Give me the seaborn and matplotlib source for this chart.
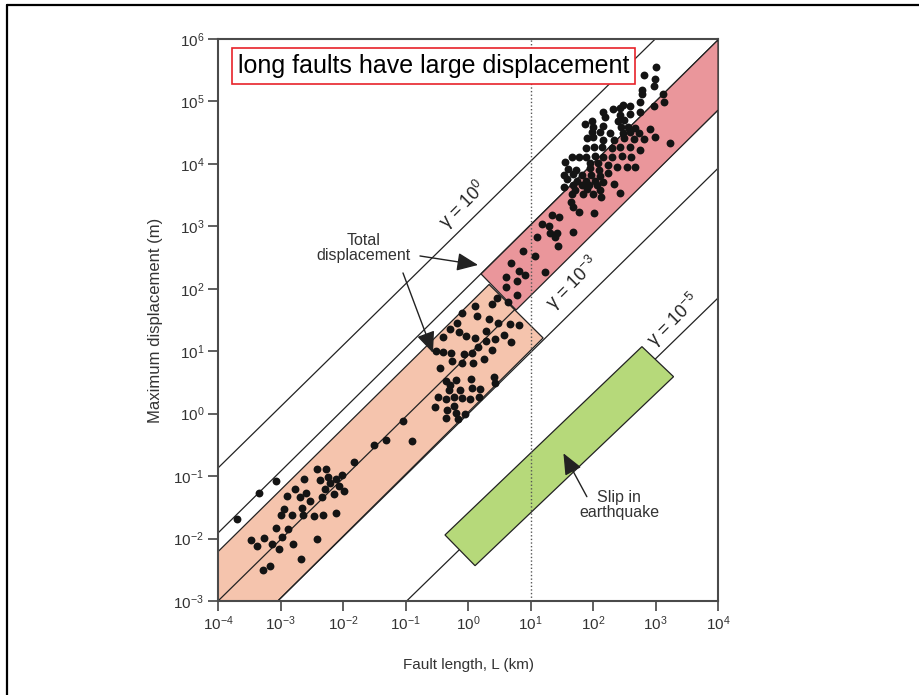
import numpy as np
import pandas as pd
import seaborn as sns
import matplotlib.pyplot as plt
from matplotlib.patches import Polygon
from matplotlib.lines import Line2D
from matplotlib.ticker import LogLocator, NullLocator

# fault data as log10 values (L in km, D in m)
small_logL = [-3.696, -3.343, -3.065, -3.476, -3.369, -3.263, -3.273, -3.167, -3.135, -3.023,
              -3.071, -2.975, -2.879, -2.799, -2.680, -3.000, -2.943, -2.904, -2.824, -2.776,
              -2.687, -2.659, -2.638, -2.590, -2.531, -2.632, -2.472, -2.424, -2.424, -2.366,
              -2.339, -2.323, -2.291, -2.270, -2.248, -2.216, -2.142, -2.119, -2.115, -2.062,
              -2.023, -1.991, -1.822, -1.501, -1.319, -0.902, -1.037]
small_logD = [-1.682, -1.266, -1.073, -2.018, -2.124, -1.996, -2.504, -2.435, -2.082, -2.172,
              -1.826, -1.980, -1.847, -2.082, -2.323, -1.618, -1.522, -1.318, -1.618, -1.211,
              -1.339, -1.511, -1.618, -1.275, -1.403, -1.051, -1.639, -2.007, -0.891, -1.062,
              -1.330, -1.627, -1.211, -0.891, -1.009, -1.115, -1.286, -1.586, -1.051, -1.158,
              -0.987, -1.243, -0.774, -0.506, -0.422, -0.442, -0.117]

mid_logL = [0.469, 0.379, 0.636, 0.785, 0.107, -0.101, 0.144, 0.336, 0.485, 0.668,
            0.812, -0.177, -0.293, -0.144, 0.283, -0.037, -0.396, 0.112, 0.283, 0.432,
            0.572, 0.688, 0.155, 0.389, -0.518, -0.401, -0.273, -0.069, 0.069, 0.251,
            -0.252, -0.092, 0.080, -0.454, 0.421, 0.432, -0.357, -0.188, 0.048, -0.293,
            -0.305, -0.124, 0.059, 0.187, -0.476, -0.357, -0.220, -0.092, 0.037, 0.176,
            -0.529, -0.337, -0.229, -0.197, -0.048, -0.357, -0.165]
mid_logD = [1.857, 1.752, 1.793, 1.901, 1.729, 1.608, 1.564, 1.511, 1.447, 1.431,
            1.420, 1.457, 1.356, 1.303, 1.329, 1.244, 1.233, 1.207, 1.169, 1.191,
            1.255, 1.153, 1.073, 1.020, 1.004, 0.988, 0.977, 0.956, 0.977, 0.871,
            0.839, 0.816, 0.807, 0.727, 0.583, 0.487, 0.528, 0.539, 0.551, 0.459,
            0.379, 0.379, 0.406, 0.400, 0.272, 0.240, 0.262, 0.246, 0.240, 0.262,
            0.102, 0.059, 0.123, 0.016, -0.005, -0.069, -0.090]

red_logL = [1.341, 1.462, 1.185, 1.302, 1.308, 1.430, 1.393, 1.100, 1.436, 0.885,
            1.078, 0.688, 0.821, 0.918, 1.238, 0.604, 0.785, 0.613, 1.677]
red_logD = [3.182, 3.145, 3.038, 3.011, 2.898, 2.898, 2.834, 2.825, 2.685, 2.605,
            2.530, 2.408, 2.290, 2.216, 2.264, 2.184, 2.130, 2.024, 2.914]

up_logL = [3.011, 2.995, 2.819, 2.979, 2.776, 3.118, 3.139, 2.787, 2.968, 2.755,
           2.584, 2.477, 2.424, 2.317, 2.157, 2.194, 2.434, 2.595, 2.755, 2.488,
           2.392, 1.981, 1.874, 1.997, 2.157, 2.445, 2.552, 2.675, 2.915, 1.981,
           2.114, 2.274, 2.477, 2.595, 2.728, 1.900, 1.997, 2.167, 2.328, 2.488,
           2.659, 2.819, 2.995, 3.225, 2.018, 1.890, 2.141, 2.301, 2.434, 2.595,
           2.744, 1.660, 1.783, 1.890, 2.034, 2.167, 2.301, 2.461, 2.605, 1.553,
           1.954, 2.087, 2.247, 2.381, 2.541, 2.675, 1.607, 1.730, 1.954, 2.103,
           2.247, 1.537, 1.687, 1.820, 1.965, 2.114, 1.580, 1.740, 1.890, 2.034,
           2.167, 1.537, 1.687, 1.820, 1.943, 2.071, 2.338, 1.714, 1.900, 2.114,
           2.434, 1.660, 1.847, 1.997, 2.125, 1.644, 1.687, 1.783, 2.018]
up_logD = [5.546, 5.354, 5.424, 5.247, 5.183, 5.119, 4.997, 5.119, 4.927, 4.997,
           4.927, 4.943, 4.890, 4.874, 4.836, 4.756, 4.783, 4.799, 4.836, 4.703,
           4.687, 4.692, 4.639, 4.596, 4.607, 4.586, 4.596, 4.570, 4.554, 4.516,
           4.516, 4.500, 4.500, 4.516, 4.500, 4.409, 4.425, 4.383, 4.383, 4.409,
           4.393, 4.393, 4.425, 4.329, 4.276, 4.249, 4.265, 4.249, 4.265, 4.276,
           4.223, 4.105, 4.105, 4.105, 4.127, 4.105, 4.116, 4.127, 4.116, 4.036,
           4.020, 4.009, 3.982, 3.945, 3.945, 3.945, 3.913, 3.902, 3.929, 3.902,
           3.860, 3.822, 3.838, 3.822, 3.822, 3.806, 3.753, 3.732, 3.732, 3.732,
           3.715, 3.635, 3.662, 3.662, 3.662, 3.662, 3.678, 3.582, 3.593, 3.582,
           3.539, 3.518, 3.518, 3.518, 3.475, 3.395, 3.315, 3.235, 3.219]

# gamma reference lines (endpoints, log10)
line_logL0 = [-4.0, -4.0, -4.0, -3.044, -0.982]
line_logD0 = [-0.870, -1.911, -3.0, -3.0, -3.0]
line_logL1 = [2.995, 4.0, 4.0, 4.0, 4.0]
line_logD1 = [6.0, 5.985, 4.863, 3.930, 1.853]

# shaded fields (vertices, log10)
salmon_logL = [-4.0, -4.0, 0.336, 1.201, -3.044]
salmon_logD = [-3.0, -2.210, 2.069, 1.212, -3.0]
red_band_logL = [0.208, 4.0, 4.0, 0.769]
red_band_logD = [2.237, 5.985, 4.863, 1.660]
quake_logL = [-0.369, 0.112, 3.288, 2.782]
quake_logD = [-1.943, -2.435, 0.592, 1.073]

gamma_text = [r'$\gamma$ = 10$^{0}$', r'$\gamma$ = 10$^{-3}$', r'$\gamma$ = 10$^{-5}$']
gamma_logL = [-0.08, 1.68, 3.29]
gamma_logD = [3.34, 2.09, 1.50]

sns.set_style("ticks")
plt.rcParams['font.family'] = ['Liberation Sans', 'DejaVu Sans']
plt.rcParams['mathtext.fontset'] = 'custom'
plt.rcParams['mathtext.rm'] = 'Liberation Sans'
plt.rcParams['mathtext.it'] = 'Liberation Sans:italic'
plt.rcParams['mathtext.default'] = 'regular'
plt.rcParams['axes.unicode_minus'] = False

df = pd.DataFrame({
    'L': 10 ** np.array(small_logL + mid_logL + red_logL + up_logL),
    'D': 10 ** np.array(small_logD + mid_logD + red_logD + up_logD),
})

fig = plt.figure(figsize=(9.2, 6.95), dpi=100)
ax = fig.add_axes([0.2370, 0.1353, 0.5435, 0.8086])
ax.set_xscale('log')
ax.set_yscale('log')
ax.set_xlim(1e-4, 1e4)
ax.set_ylim(1e-3, 1e6)

def poly(lx, ly, fc, z):
    pts = np.column_stack([10 ** np.array(lx), 10 ** np.array(ly)])
    ax.add_patch(Polygon(pts, closed=True, fc=fc, ec='#222222', lw=0.9, zorder=z))

poly(salmon_logL, salmon_logD, '#f5c4ad', 1)
for x0, y0, x1, y1 in zip(line_logL0, line_logD0, line_logL1, line_logD1):
    ax.plot([10 ** x0, 10 ** x1], [10 ** y0, 10 ** y1], color='#222222', lw=0.9, zorder=2)
poly(red_band_logL, red_band_logD, '#ea969b', 3)
poly(quake_logL, quake_logD, '#b6d97a', 3)

ax.axvline(10, color='#555555', ls=(0, (1, 1.6)), lw=1, zorder=4)

sns.scatterplot(data=df, x='L', y='D', ax=ax, color='#141414', s=32,
                linewidth=0, zorder=5, legend=False)

for t, lx, ly in zip(gamma_text, gamma_logL, gamma_logD):
    ax.text(10 ** lx, 10 ** ly, t, rotation=45, ha='center', va='center',
            fontsize=13, color='#222222', zorder=6)

ax.text(10 ** -1.666, 10 ** 2.653, 'Total\ndisplacement', ha='center', va='center',
        fontsize=11.5, color='#333333', linespacing=1.0, zorder=6)
arrow = dict(arrowstyle='-|>,head_length=0.65,head_width=0.28', mutation_scale=20,
             color='#222222', lw=1, shrinkA=0, shrinkB=0)
ax.annotate('', xy=(10 ** 0.160, 10 ** 2.381), xytext=(10 ** -0.769, 10 ** 2.525),
            arrowprops=arrow, zorder=6)
ax.annotate('', xy=(10 ** -0.561, 10 ** 0.972), xytext=(10 ** -1.041, 10 ** 2.253),
            arrowprops=arrow, zorder=6)

ax.text(10 ** 2.418, 10 ** -1.463, 'Slip in\nearthquake', ha='center', va='center',
        fontsize=11.5, color='#333333', linespacing=1.0, zorder=6)
ax.annotate('', xy=(10 ** 1.526, 10 ** -0.635), xytext=(10 ** 1.901, 10 ** -1.330),
            arrowprops=arrow, zorder=6)

ax.text(0.431, 0.952, 'long faults have large displacement', transform=ax.transAxes,
        ha='center', va='center', fontsize=18, color='black', zorder=7,
        bbox=dict(boxstyle='square,pad=0.25', fc='white', ec='#e8232a', lw=1.2))

ax.xaxis.set_major_locator(LogLocator(base=10, numticks=20))
ax.yaxis.set_major_locator(LogLocator(base=10, numticks=20))
ax.xaxis.set_minor_locator(NullLocator())
ax.yaxis.set_minor_locator(NullLocator())
ax.tick_params(direction='out', length=7, width=1.2, color='#444444',
               labelsize=11, labelcolor='#333333', pad=3)
for s in ax.spines.values():
    s.set_color('#4a4a4a')
    s.set_linewidth(1.5)

ax.set_xlabel('Fault length, L (km)', fontsize=11, color='#333333')
ax.set_ylabel('Maximum displacement (m)', fontsize=12, color='#333333')
ax.xaxis.label.set_va('center')
ax.yaxis.label.set_va('center')
ax.xaxis.set_label_coords(0.5, -0.114)
ax.yaxis.set_label_coords(-0.126, 0.5)

# slide frame
fig.add_artist(Line2D([0.0076, 0.0076], [0.0, 0.9928], color='black', lw=1.6))
fig.add_artist(Line2D([0.0076, 1.0], [0.9928, 0.9928], color='black', lw=1.6))

fig.savefig('out.png', dpi=100)
